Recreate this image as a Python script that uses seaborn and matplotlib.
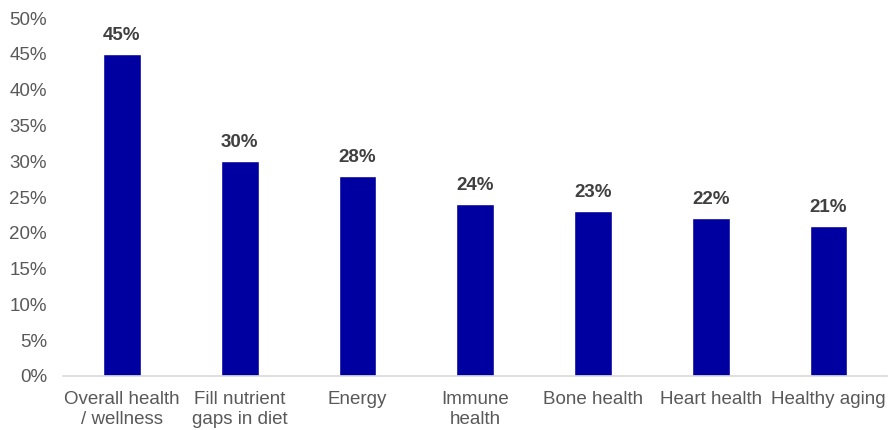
import matplotlib
matplotlib.use("Agg")
import matplotlib.pyplot as plt
import seaborn as sns
import pandas as pd
from matplotlib.ticker import FuncFormatter

categories = ["Overall health\n/ wellness", "Fill nutrient\ngaps in diet", "Energy",
              "Immune\nhealth", "Bone health", "Heart health", "Healthy aging"]
values = [45, 30, 28, 24, 23, 22, 21]
value_labels = ["45%", "30%", "28%", "24%", "23%", "22%", "21%"]

sns.set_theme(style="white")
plt.rcParams['font.family'] = ['Liberation Sans', 'DejaVu Sans']

df = pd.DataFrame({"cat": categories, "val": values})

fig = plt.figure(figsize=(8.93, 4.30), dpi=100)
ax = fig.add_axes([0.0706, 0.1256, 0.923, 0.8325])
sns.barplot(data=df, x="cat", y="val", color="#0000A0", width=0.32, ax=ax, saturation=1)

for p, lab in zip(ax.patches, value_labels):
    ax.text(p.get_x() + p.get_width() / 2, p.get_height() + 1.4, lab,
            ha="center", va="bottom", fontsize=13.5, fontweight="bold", color="#404040")

ax.set_ylim(0, 50)
ax.set_yticks(range(0, 51, 5))
ax.yaxis.set_major_formatter(FuncFormatter(lambda v, _: f"{int(v)}%"))
ax.set_xlim(-0.5, len(categories) - 0.5)
ax.set_xlabel("")
ax.set_ylabel("")
ax.tick_params(axis="both", length=0, labelsize=13.5, colors="#595959")
ax.tick_params(axis="y", pad=11.5)
ax.tick_params(axis="x", pad=11)
for s in ["left", "right", "top"]:
    ax.spines[s].set_visible(False)
ax.spines["bottom"].set_color("#d9d9d9")
ax.spines["bottom"].set_linewidth(1.2)
for t in ax.get_xticklabels():
    t.set_linespacing(1.2)

fig.savefig("out.png", dpi=100)
